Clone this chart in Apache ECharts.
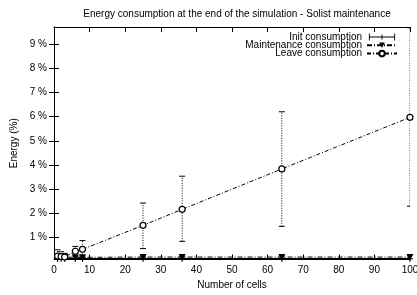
<!DOCTYPE html>
<html>
<head>
<meta charset="utf-8">
<script src="https://cdn.jsdelivr.net/npm/echarts@6/dist/echarts.min.js"></script>
<style>html,body{margin:0;padding:0;background:#fff}#c{width:417px;height:295px}</style>
</head>
<body>
<div id="c"></div>
<script>
const titleText = 'Energy consumption at the end of the simulation - Solist maintenance';
const xCells = [1, 2, 3, 6, 8, 25, 36, 64, 100];
const initMean = [0.13, 0.13, 0.13, 0.13, 0.13, 0.13, 0.13, 0.13, 0.13];
const initLow = [0.1, 0.1, 0.1, 0.1, 0.1, 0.1, 0.1, 0.1, 0.1];
const initHigh = [0.16, 0.16, 0.16, 0.16, 0.16, 0.16, 0.16, 0.16, 0.16];
const maintMean = [0.2, 0.2, 0.2, 0.19, 0.19, 0.2, 0.2, 0.2, 0.2];
const maintLow = [0.14, 0.14, 0.14, 0.14, 0.14, 0.15, 0.15, 0.15, 0.15];
const maintHigh = [0.27, 0.26, 0.25, 0.25, 0.25, 0.24, 0.24, 0.25, 0.25];
const leaveMean = [0.24, 0.22, 0.2, 0.44, 0.52, 1.51, 2.17, 3.84, 5.97];
const leaveLow = [0.1, 0.1, 0.1, 0.24, 0.2, 0.55, 0.85, 1.47, 2.3];
const leaveHigh = [0.5, 0.42, 0.35, 0.64, 0.88, 2.43, 3.54, 6.2, 9.67];
const yTicks = [1, 2, 3, 4, 5, 6, 7, 8, 9];

const FONT = 'Liberation Sans';
const chart = echarts.init(document.getElementById('c'), null, {renderer: 'canvas'});

function pairs(ys) { return xCells.map((x, i) => [x, ys[i]]); }
function errData(m, lo, hi) { return xCells.map((x, i) => [x, m[i], lo[i], hi[i]]); }
function errSeries(name, data, dash) {
  return {
    type: 'custom', name: name, data: data, silent: true, z: 3, clip: true,
    encode: {x: 0, y: [1, 2, 3]},
    renderItem: function (params, api) {
      const x = api.value(0);
      const lo = api.coord([x, api.value(2)]);
      const hi = api.coord([x, api.value(3)]);
      const w = 3;
      const st = {stroke: '#000', lineWidth: 1, lineDash: dash};
      return {
        type: 'group', children: [
          {type: 'line', shape: {x1: lo[0], y1: lo[1], x2: hi[0], y2: hi[1]}, style: st},
          {type: 'line', shape: {x1: lo[0] - w, y1: lo[1], x2: lo[0] + w, y2: lo[1]}, style: {stroke: '#000', lineWidth: 1}},
          {type: 'line', shape: {x1: hi[0] - w, y1: hi[1], x2: hi[0] + w, y2: hi[1]}, style: {stroke: '#000', lineWidth: 1}}
        ]
      };
    }
  };
}

const axisLineStyle = {lineStyle: {color: '#000', width: 1}};
const tickStyle = {inside: true, length: 5, lineStyle: {color: '#000', width: 1}};

chart.setOption({
  animation: false,
  backgroundColor: '#fff',
  title: {
    text: titleText, left: 232, top: 4, textAlign: 'center',
    textStyle: {fontFamily: FONT, fontSize: 10, fontWeight: 'normal', color: '#000'}
  },
  legend: {
    orient: 'vertical', right: 19, top: 32, align: 'right', padding: 0,
    itemWidth: 30, itemHeight: 7, itemGap: -1.7,
    textStyle: {fontFamily: FONT, fontSize: 10, color: '#000', lineHeight: 8},
    data: [
      {name: 'Init consumption', icon: 'path://M0,0h1v8h-1zM0,3.5h30v1h-30zM29,0h1v8h-1zM14.5,1h1v6h-1z'},
      {name: 'Maintenance consumption'},
      {name: 'Leave consumption'}
    ]
  },
  grid: {left: 54, right: 7, top: 27, bottom: 35.5, outerBoundsMode: 'none', containLabel: false},
  xAxis: [{
    type: 'value', min: 0, max: 100, interval: 10, position: 'bottom',
    name: 'Number of cells', nameLocation: 'middle', nameGap: 21,
    nameTextStyle: {fontFamily: FONT, fontSize: 10, color: '#000'},
    axisLine: axisLineStyle, axisTick: tickStyle, splitLine: {show: false},
    axisLabel: {fontFamily: FONT, fontSize: 10, color: '#000', margin: 6}
  }, {
    type: 'value', min: 0, max: 100, interval: 10, position: 'top',
    axisLine: axisLineStyle, axisTick: tickStyle, splitLine: {show: false},
    axisLabel: {show: false}
  }],
  yAxis: [{
    type: 'value', min: 0.1, max: 9.7, position: 'left',
    name: 'Energy (%)', nameLocation: 'middle', nameGap: 28, nameRotate: 90,
    nameTextStyle: {fontFamily: FONT, fontSize: 10, color: '#000'},
    axisLine: {show: true, lineStyle: {color: '#000', width: 1}},
    axisTick: Object.assign({customValues: yTicks}, tickStyle),
    splitLine: {show: false},
    axisLabel: {customValues: yTicks, fontFamily: FONT, fontSize: 10, color: '#000', margin: 7,
      formatter: v => v + ' %'}
  }, {
    type: 'value', min: 0.1, max: 9.7, position: 'right',
    axisLine: {show: true, lineStyle: {color: '#000', width: 1}},
    axisTick: Object.assign({customValues: yTicks}, tickStyle),
    splitLine: {show: false}, axisLabel: {show: false}
  }],
  series: [
    {
      type: 'line', name: 'Init consumption', data: pairs(initMean), z: 4,
      symbol: 'path://M0,4h10v2h-10zM4,0h2v10h-2z', symbolSize: 6,
      itemStyle: {color: '#000'}, lineStyle: {color: '#000', width: 1.5}
    },
    errSeries('Init consumption', errData(initMean, initLow, initHigh), null),
    {
      type: 'line', name: 'Maintenance consumption', data: pairs(maintMean), z: 4,
      symbol: 'path://M0,0L10,0L5,9Z', symbolSize: [7, 6],
      itemStyle: {color: '#000'}, lineStyle: {color: '#000', width: 1, type: [5, 2, 1, 2]}
    },
    errSeries('Maintenance consumption', errData(maintMean, maintLow, maintHigh), [3, 2]),
    {
      type: 'line', name: 'Leave consumption', data: pairs(leaveMean), z: 4,
      symbol: 'circle', symbolSize: 6,
      itemStyle: {color: '#fff', borderColor: '#000', borderWidth: 1.2},
      lineStyle: {color: '#000', width: 1, type: [4, 2, 1, 2]}
    },
    errSeries('Leave consumption', errData(leaveMean, leaveLow, leaveHigh), [1, 1.5])
  ]
});
</script>
</body>
</html>
